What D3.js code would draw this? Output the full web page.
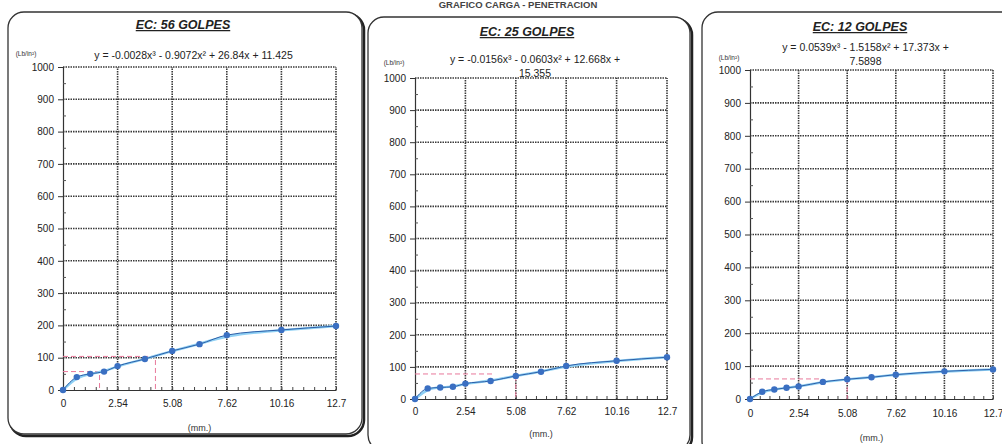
<!DOCTYPE html>
<html>
<head>
<meta charset="utf-8">
<script src="https://cdn.jsdelivr.net/npm/d3@7"></script>
<style>
  body { margin: 0; background: #fff; }
  svg { display: block; font-family: "Liberation Sans", Arial, sans-serif; }
  .tick text { font-size: 10px; fill: #222; }
</style>
</head>
<body>
<svg id="chart" width="1002" height="444"></svg>
<script>
// penetracion (mm) y carga (Lb/in2)
var penetration = [0, 0.64, 1.27, 1.91, 2.54, 3.81, 5.08, 6.35, 7.62, 10.16, 12.7];
var load56 = [0, 40, 50, 57, 74, 96, 121, 142, 170, 186, 198];
var load25 = [0, 33, 36, 38, 48, 56, 72, 85, 103, 119, 130];
var load12 = [0, 22, 29, 34, 38, 52, 60, 66, 74, 84, 90];

var titles = ["EC: 56 GOLPES", "EC: 25 GOLPES", "EC: 12 GOLPES"];
var equations = [
  ["y = -0.0028x\u00b3 - 0.9072x\u00b2 + 26.84x + 11.425"],
  ["y = -0.0156x\u00b3 - 0.0603x\u00b2 + 12.668x +", "15.355"],
  ["y = 0.0539x\u00b3 - 1.5158x\u00b2 + 17.373x +", "7.5898"]
];
var xTicks = [0, 2.54, 5.08, 7.62, 10.16, 12.7];
var xMinor = [0.508, 1.016, 1.524, 2.032, 3.048, 3.556, 4.064, 4.572, 5.588, 6.096, 6.604, 7.112,
              8.128, 8.636, 9.144, 9.652, 10.668, 11.176, 11.684, 12.192];
var yTicks = [0, 100, 200, 300, 400, 500, 600, 700, 800, 900, 1000];
var yMinor = [50, 150, 250, 350, 450, 550, 650, 750, 850, 950];
var yUnit = "(Lb/in\u00b2)";
var xUnit = "(mm.)";
var pageTitle = "GRAFICO CARGA - PENETRACION";

// lineas de correccion (rosadas)
var guides56 = [[[0, 104], [4.3, 104], [4.3, 0]], [[0, 57], [1.7, 57], [1.7, 0]]];
var guides25 = [[[0, 78], [3.9, 78]], [[5.08, 72], [5.08, 0]]];
var guides12 = [[[0, 61], [3.7, 61]], [[5.08, 61], [5.08, 0]]];

var svg = d3.select('#chart');

svg.append('text')
  .attr('x', 518).attr('y', 8)
  .attr('text-anchor', 'middle')
  .attr('font-size', 9.5).attr('font-weight', 'bold')
  .attr('fill', '#444')
  .text(pageTitle);

var panels = [
  { loads: load56, guides: guides56, title: titles[0], eq: equations[0],
    box: [8, 12, 354, 422], plot: [63, 336, 67, 390],
    titleY: 29, eqY: 59, unitX: 26, unitY: 56, xlabY: 411, mmY: 431 },
  { loads: load25, guides: guides25, title: titles[1], eq: equations[1],
    box: [368, 17, 322, 434], plot: [415, 667, 78, 399],
    titleY: 36, eqY: 63, unitX: 394, unitY: 65, xlabY: 419, mmY: 437 },
  { loads: load12, guides: guides12, title: titles[2], eq: equations[2],
    box: [702, 12, 320, 445], plot: [750, 993, 70, 399],
    titleY: 31, eqY: 51, unitX: 729, unitY: 60, xlabY: 421, mmY: 441 }
];

panels.forEach(function(p) {
  var g = svg.append('g');
  var b = p.box;

  // marco redondeado con sombra
  g.append('rect')
    .attr('x', b[0] + 2).attr('y', b[1] + 2).attr('width', b[2]).attr('height', b[3])
    .attr('rx', 16).attr('fill', 'none').attr('stroke', '#222').attr('stroke-width', 2.5);
  g.append('rect')
    .attr('x', b[0]).attr('y', b[1]).attr('width', b[2]).attr('height', b[3])
    .attr('rx', 16).attr('fill', '#fff').attr('stroke', '#333').attr('stroke-width', 1.3);

  var x = d3.scaleLinear().domain([0, 12.7]).range([p.plot[0], p.plot[1]]);
  var y = d3.scaleLinear().domain([0, 1000]).range([p.plot[3], p.plot[2]]);
  var cx = (b[0] + b[2] / 2);

  // titulo
  g.append('text')
    .attr('x', cx - 2).attr('y', p.titleY)
    .attr('text-anchor', 'middle')
    .attr('font-size', 12.5).attr('font-weight', 'bold').attr('font-style', 'italic')
    .attr('text-decoration', 'underline')
    .attr('fill', '#222')
    .text(p.title);

  // ecuacion
  var eqX = (p.plot[0] + p.plot[1]) / 2 - 6;
  p.eq.forEach(function(line, i) {
    g.append('text')
      .attr('x', eqX).attr('y', p.eqY + i * 14)
      .attr('text-anchor', 'middle')
      .attr('font-size', 10.5).attr('fill', '#222')
      .text(line);
  });

  g.append('text')
    .attr('x', p.unitX).attr('y', p.unitY)
    .attr('text-anchor', 'middle')
    .attr('font-size', 6.5).attr('fill', '#333')
    .text(yUnit);

  // rejilla
  var grid = g.append('g').attr('stroke', '#3a3a3a').attr('stroke-width', 1.6)
    .attr('stroke-dasharray', '1.5,1');
  grid.selectAll('.h').data(yTicks.slice(1)).enter().append('line')
    .attr('x1', x(0)).attr('x2', x(12.7))
    .attr('y1', d => y(d)).attr('y2', d => y(d));
  grid.selectAll('.v').data(xTicks.slice(1)).enter().append('line')
    .attr('x1', d => x(d)).attr('x2', d => x(d))
    .attr('y1', y(0)).attr('y2', y(1000));

  // ejes
  g.append('g')
    .attr('transform', 'translate(' + x(0) + ',0)')
    .call(d3.axisLeft(y).tickValues(yTicks).tickSize(5).tickPadding(4).tickFormat(d3.format('d')))
    .call(a => {
      a.select('.domain').attr('stroke', '#333').attr('stroke-width', 1.2);
      a.selectAll('line').attr('stroke', '#333');
    });
  g.append('g')
    .attr('transform', 'translate(' + x(0) + ',0)')
    .call(d3.axisRight(y).tickValues(yMinor).tickSize(3).tickFormat(''))
    .call(a => { a.select('.domain').remove(); a.selectAll('line').attr('stroke', '#555'); });

  g.append('g')
    .attr('transform', 'translate(0,' + y(0) + ')')
    .call(d3.axisBottom(x).tickValues(xTicks).tickSize(0).tickFormat(d3.format('')))
    .call(a => {
      a.select('.domain').attr('stroke', '#333').attr('stroke-width', 1.2);
      a.selectAll('text').attr('y', p.xlabY - y(0) - 4).attr('dy', 0);
    });
  g.append('g')
    .attr('transform', 'translate(0,' + y(0) + ')')
    .call(d3.axisTop(x).tickValues(xMinor.concat(xTicks.slice(1))).tickSize(3).tickFormat(''))
    .call(a => { a.select('.domain').remove(); a.selectAll('line').attr('stroke', '#444'); });

  g.append('text')
    .attr('x', (p.plot[0] + p.plot[1]) / 2).attr('y', p.mmY)
    .attr('text-anchor', 'middle')
    .attr('font-size', 9).attr('fill', '#333')
    .text(xUnit);

  // lineas de correccion
  var guideLine = d3.line().x(d => x(d[0])).y(d => y(d[1]));
  g.selectAll('.guide').data(p.guides).enter().append('path')
    .attr('d', guideLine)
    .attr('fill', 'none').attr('stroke', '#e8789a').attr('stroke-width', 1)
    .attr('stroke-dasharray', '5,3');

  var pts = penetration.map((d, i) => [d, p.loads[i]]);

  // curva de ajuste y datos
  g.append('path')
    .attr('d', d3.line().x(d => x(d[0])).y(d => y(d[1])).curve(d3.curveBasis)(pts))
    .attr('fill', 'none').attr('stroke', '#8fd0f4').attr('stroke-width', 2.5);
  g.append('path')
    .attr('d', d3.line().x(d => x(d[0])).y(d => y(d[1])).curve(d3.curveMonotoneX)(pts))
    .attr('fill', 'none').attr('stroke', '#2c5fa8').attr('stroke-width', 1);
  g.selectAll('circle').data(pts).enter().append('circle')
    .attr('cx', d => x(d[0])).attr('cy', d => y(d[1]))
    .attr('r', 3.2).attr('fill', '#3a6fc2');
});
</script>
</body>
</html>
